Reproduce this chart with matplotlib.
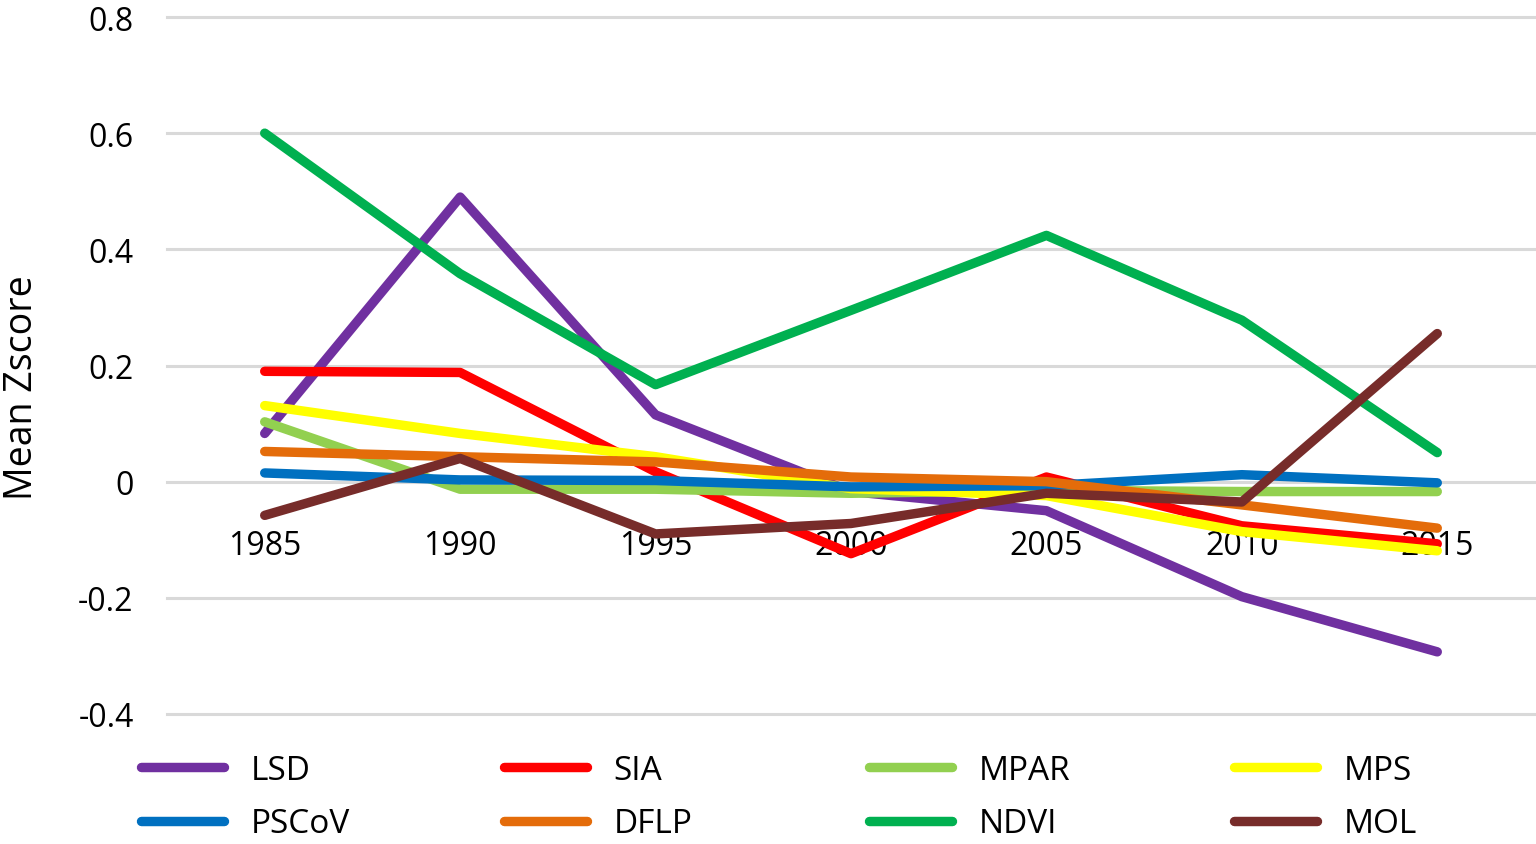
import matplotlib
matplotlib.use("Agg")
import matplotlib.pyplot as plt
from matplotlib.lines import Line2D
from matplotlib.transforms import blended_transform_factory

years = ["1985", "1990", "1995", "2000", "2005", "2010", "2015"]
series_names = ["LSD", "SIA", "MPAR", "MPS", "PSCoV", "DFLP", "NDVI", "MOL"]
LSD = [0.083, 0.490, 0.115, -0.017, -0.050, -0.198, -0.293]
SIA = [0.190, 0.188, 0.017, -0.124, 0.008, -0.076, -0.107]
MPAR = [0.103, -0.013, -0.013, -0.020, -0.015, -0.017, -0.017]
MPS = [0.131, 0.083, 0.043, -0.012, -0.024, -0.086, -0.119]
PSCoV = [0.015, 0.003, 0.002, -0.009, -0.007, 0.012, -0.002]
DFLP = [0.052, 0.043, 0.034, 0.008, 0.000, -0.040, -0.080]
NDVI = [0.600, 0.358, 0.167, 0.295, 0.424, 0.278, 0.050]
MOL = [-0.058, 0.040, -0.090, -0.072, -0.020, -0.035, 0.255]
values = [LSD, SIA, MPAR, MPS, PSCoV, DFLP, NDVI, MOL]
colors = ["#7030A0", "#FF0000", "#92D050", "#FFFF00",
          "#0070C0", "#E46C0A", "#00B050", "#772C2A"]
yticks = [-0.4, -0.2, 0, 0.2, 0.4, 0.6, 0.8]
ytick_labels = ["-0.4", "-0.2", "0", "0.2", "0.4", "0.6", "0.8"]

plt.rcParams['font.family'] = ['Open Sans', 'DejaVu Sans']
FS = 23

fig = plt.figure(figsize=(15.36, 8.45), dpi=100)
ax = fig.add_axes([167/1536, 130/845, 1368/1536, 697/845])

x = list(range(len(years)))
for yv in yticks:
    ax.axhline(yv, color="#D9D9D9", lw=2.2, zorder=0, clip_on=False)

LW = 6.8
for i, (name, vals, c) in enumerate(zip(series_names, values, colors)):
    ax.plot(x, vals, color=c, lw=LW, solid_capstyle='round',
            solid_joinstyle='round', zorder=2 + i, clip_on=False)

ax.set_xlim(-0.5, len(years) - 0.5)
ax.set_ylim(-0.4, 0.8)
ax.set_yticks(yticks)
ax.set_yticklabels(ytick_labels, fontsize=FS)
ax.set_xticks([])
trans = blended_transform_factory(ax.transData, ax.transData)
for xi, lab in zip(x, years):
    ax.text(xi, -0.11, lab, transform=trans, ha='center', va='center',
            fontsize=FS, color='black', zorder=1)
ax.tick_params(axis='y', length=0, pad=24)
for s in ax.spines.values():
    s.set_visible(False)
ax.set_ylabel("Mean Zscore", fontsize=27, va='center')
ax.yaxis.set_label_coords((22 - 167) / 1368, 0.469)

# legend: 4 columns x 2 rows
col_x = [140.5, 503.5, 868.5, 1233.5]
for col in range(4):
    idxs = [col, col + 4]
    handles = [Line2D([0], [0], color=colors[k], lw=LW, solid_capstyle='round') for k in idxs]
    labels = [series_names[k] for k in idxs]
    fig.legend(handles, labels, loc='upper left',
               bbox_to_anchor=(col_x[col] / 1536, 1 - 755 / 845),
               bbox_transform=fig.transFigure, frameon=False, fontsize=24,
               handlelength=2.5, handletextpad=0.8, labelspacing=0.61,
               borderpad=0, borderaxespad=0)

fig.savefig("out.png", dpi=100)
